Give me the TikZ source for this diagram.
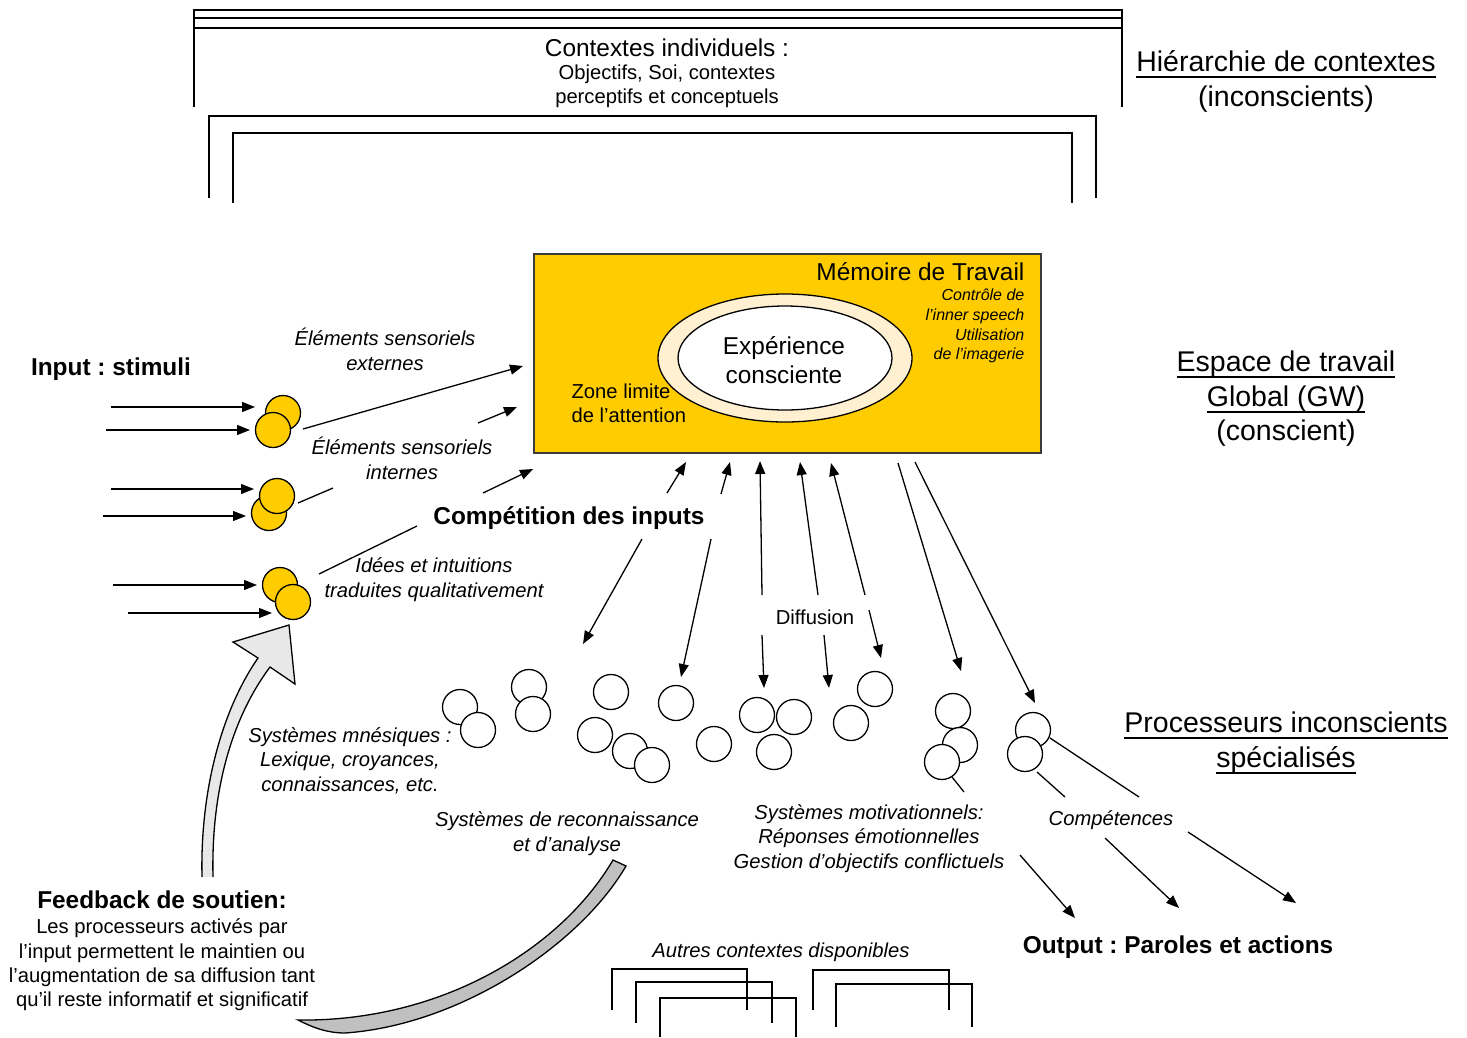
\documentclass[tikz,border=0pt]{standalone}
\usepackage{fontspec}
\setmainfont{Liberation Sans}
\usetikzlibrary{arrows.meta,shapes.geometric}
\frenchspacing
\definecolor{gold}{RGB}{255,204,0}
\definecolor{cream}{RGB}{255,240,210}
\definecolor{lgray}{RGB}{232,232,232}
\definecolor{mgray}{RGB}{192,192,192}
\definecolor{boxedge}{RGB}{60,60,60}
\newcommand\myfsA{\fontsize{28.5}{34.5}\selectfont}
\newcommand\myfsB{\fontsize{24.4}{29}\selectfont}
\newcommand\myfsC{\fontsize{20.2}{24.4}\selectfont}
\newcommand\myfsD{\fontsize{16}{19.8}\selectfont}
\newcommand\myul[1]{\setbox0=\hbox{#1}\rlap{\vrule height -4.4pt depth 6.2pt width \wd0}\box0}
\tikzset{
  arr/.style={-{Triangle[length=13pt,width=10pt]}},
  wc/.style={circle,draw,fill=white,minimum size=35pt,inner sep=0pt},
  yc/.style={wc,fill=gold},
  txt/.style={inner sep=0pt,align=center},
  lbA/.style={txt,font=\myfsA},
  lbB/.style={txt,font=\myfsB},
  lbC/.style={txt,font=\myfsC},
  lbD/.style={txt,font=\myfsD},
}
\begin{document}
\begin{tikzpicture}[x=1pt,y=-1pt,line width=1.3pt]
\useasboundingbox (0,0) rectangle (1467,1037);

% ---- top context brackets
\draw (194,107) -- (194,10) -- (1122,10) -- (1122,107);
\draw (194,18) -- (1122,18);
\draw (194,28) -- (1122,28);
\draw (209,198) -- (209,116) -- (1096,116) -- (1096,198);
\draw (233,203) -- (233,133) -- (1072,133) -- (1072,203);
\node[lbB] (ctxA) at (667,48) {Contextes individuels :};
\node[lbC] (ctxB) at (667,86) {Objectifs, Soi, contextes\\perceptifs et conceptuels};

% ---- right labels
\node[lbA] (hier) at (1286,81.5) {\myul{Hiérarchie de contextes}\\(inconscients)};
\node[lbA] (gw) at (1286,399) {\myul{Espace de travail}\\\myul{Global (GW)}\\(conscient)};
\node[lbA] (proc) at (1286,743) {\myul{Processeurs inconscients}\\\myul{spécialisés}};

% ---- working memory
\node[draw=boxedge,fill=gold,minimum width=507pt,minimum height=199pt,inner sep=0pt] (wm) at (787.5,353.5) {};
\node[ellipse,draw,fill=cream,minimum width=254pt,minimum height=128pt,inner sep=0pt] (zone) at (785,358) {};
\node[ellipse,draw,fill=white,minimum width=214pt,minimum height=104pt,inner sep=0pt] (conc) at (785,358) {};
\node[lbB] (exp) at (784,360) {Expérience\\consciente};
\node[lbB,anchor=east] (memt) at (1025,272) {Mémoire de Travail};
\node[lbD,align=right,anchor=east,font=\myfsD\itshape] (ctrl) at (1025,326) {Contrôle de\\l’inner speech\\Utilisation\\de l’imagerie};
\node[lbC,align=left,anchor=west] (zlab) at (571,403) {Zone limite\\de l’attention};

% ---- inputs
\node[lbB,font=\myfsB\bfseries] (input) at (111,369.5) {Input : stimuli};
\node[yc] (y1a) at (283,413) {};
\node[yc] (y1b) at (273,430) {};
\node[yc] (y2b) at (269,513) {};
\node[yc] (y2a) at (277,496) {};
\node[yc] (y3a) at (280,585) {};
\node[yc] (y3b) at (293,602) {};

\coordinate (i1s) at (111,407); \coordinate (i1e) at (255,407);
\coordinate (i2s) at (106,430); \coordinate (i2e) at (250,430);
\coordinate (i3s) at (111,489); \coordinate (i3e) at (254,489);
\coordinate (i4s) at (103,516); \coordinate (i4e) at (246,516);
\coordinate (i5s) at (113,585); \coordinate (i5e) at (257,585);
\coordinate (i6s) at (128,613); \coordinate (i6e) at (272,613);
\foreach \k in {1,...,6} {\draw[arr] (i\k s) -- (i\k e);}

% ---- lines from inputs to working memory
\coordinate (e1s) at (303,429); \coordinate (e1e) at (523,366);
\coordinate (e2s) at (298,503); \coordinate (e2m) at (333,488);
\coordinate (e2n) at (478,423); \coordinate (e2e) at (517,407);
\coordinate (e3s) at (319,574); \coordinate (e3m) at (417,526);
\coordinate (e3n) at (483,493); \coordinate (e3e) at (533,469);
\draw[arr] (e1s) -- (e1e);
\draw (e2s) -- (e2m); \draw[arr] (e2n) -- (e2e);
\draw (e3s) -- (e3m); \draw[arr] (e3n) -- (e3e);

\node[lbC,font=\myfsC\itshape] (ese) at (385,349.5) {Éléments sensoriels\\externes};
\node[lbC,font=\myfsC\itshape] (esi) at (402,458.5) {Éléments sensoriels\\internes};
\node[lbC,font=\myfsC\itshape] (idee) at (434,579.5) {Idées et intuitions\\traduites qualitativement};
\node[lbB,font=\myfsB\bfseries] (comp) at (569,518.5) {Compétition des inputs};

% ---- competition / diffusion arrows
\coordinate (u1s) at (667,493); \coordinate (u1e) at (686,462);
\coordinate (u2s) at (721,494); \coordinate (u2e) at (730,462);
\coordinate (d1s) at (642,539); \coordinate (d1e) at (583,644);
\coordinate (d2s) at (711,539); \coordinate (d2e) at (681,677);
\draw[arr] (u1s) -- (u1e);
\draw[arr] (u2s) -- (u2e);
\draw[arr] (d1s) -- (d1e);
\draw[arr] (d2s) -- (d2e);

\node[lbC] (diff) at (815,617) {Diffusion};
\coordinate (f1s) at (762,595); \coordinate (f1e) at (760,461);
\coordinate (f1t) at (762,635); \coordinate (f1b) at (764,688);
\coordinate (f2s) at (818,595); \coordinate (f2e) at (800,462);
\coordinate (f2t) at (824,635); \coordinate (f2b) at (829,688);
\coordinate (f3s) at (865,595); \coordinate (f3e) at (831,463);
\coordinate (f3t) at (869,610); \coordinate (f3b) at (881,658);
\foreach \k in {1,2,3} {\draw[arr] (f\k s) -- (f\k e); \draw[arr] (f\k t) -- (f\k b);}

\coordinate (r1s) at (898,463); \coordinate (r1e) at (961,671);
\coordinate (r2s) at (915,462); \coordinate (r2e) at (1035,703);
\draw[arr] (r1s) -- (r1e);
\draw[arr] (r2s) -- (r2e);

% ---- unconscious processors
\node[wc] (p1) at (460,707) {};
\node[wc] (p2) at (478,730) {};
\node[wc] (p3) at (529,687) {};
\node[wc] (p4) at (533,714) {};
\node[wc] (p5) at (611,692) {};
\node[wc] (p6) at (676,703) {};
\node[wc] (p7) at (595,735) {};
\node[wc] (p8) at (630,751) {};
\node[wc] (p9) at (652,765) {};
\node[wc] (p10) at (714,744) {};
\node[wc] (p11) at (757,715) {};
\node[wc] (p12) at (794,717) {};
\node[wc] (p13) at (774,752) {};
\node[wc] (p14) at (875,689) {};
\node[wc] (p15) at (851,723) {};
\node[wc] (p16) at (953,711) {};
\node[wc] (p17) at (960,745) {};
\node[wc] (p18) at (942,762) {};
\node[wc] (p19) at (1033,730) {};
\node[wc] (p20) at (1025,754) {};

\node[lbC,font=\myfsC\itshape] (mnes) at (350,760.5) {Systèmes mnésiques :\\Lexique, croyances,\\connaissances, etc.};
\node[lbC,font=\myfsC\itshape] (reco) at (567,833.5) {Systèmes de reconnaissance\\et d’analyse};
\node[lbC,font=\myfsC\itshape] (motiv) at (869,838.5) {Systèmes motivationnels:\\Réponses émotionnelles\\Gestion d’objectifs conflictuels};
\node[lbC,font=\myfsC\itshape] (compt) at (1111,820) {Compétences};

% ---- outputs
\coordinate (o1s) at (952,777); \coordinate (o1m) at (964,792);
\coordinate (o1n) at (1020,855); \coordinate (o1e) at (1075,918);
\coordinate (o2s) at (1037,772); \coordinate (o2m) at (1065,797);
\coordinate (o2n) at (1105,838); \coordinate (o2e) at (1179,908);
\coordinate (o3s) at (1050,738); \coordinate (o3m) at (1139,797);
\coordinate (o3n) at (1188,832); \coordinate (o3e) at (1296,903);
\foreach \k in {1,2,3} {\draw (o\k s) -- (o\k m); \draw[arr] (o\k n) -- (o\k e);}
\node[lbB,font=\myfsB\bfseries] (output) at (1178,947.5) {Output : Paroles et actions};

% ---- other contexts
\node[lbC,font=\myfsC\itshape] (autres) at (781,952) {Autres contextes disponibles};
\draw (612,1010) -- (612,969) -- (747,969) -- (747,1010);
\draw (636,1023) -- (636,982) -- (772,982) -- (772,1023);
\draw (660,1037) -- (660,998) -- (796,998) -- (796,1037);
\draw (813,1010) -- (813,970) -- (949,970) -- (949,1010);
\draw (836,1027) -- (836,984) -- (972,984) -- (972,1027);

% ---- feedback
\fill[lgray] (202,877) .. controls (200,790) and (222,710) .. (258,658) -- (233,642) -- (289,625) -- (295,684) -- (270,667) .. controls (232,718) and (211,790) .. (213,877) -- cycle;
\draw (202,877) .. controls (200,790) and (222,710) .. (258,658) -- (233,642) -- (289,625) -- (295,684) -- (270,667) .. controls (232,718) and (211,790) .. (213,877);
\filldraw[fill=mgray] (626,866) .. controls (580,945) and (460,1025) .. (345,1033) .. controls (325,1033) and (310,1026) .. (298,1020) .. controls (440,1022) and (560,950) .. (613,860) -- cycle;

\node[lbB,font=\myfsB\bfseries] (fbt) at (162,900) {Feedback de soutien:};
\node[lbC] (fbd) at (162,965) {Les processeurs activés par\\l’input permettent le maintien ou\\l’augmentation de sa diffusion tant\\qu’il reste informatif et significatif};
\end{tikzpicture}
\end{document}
